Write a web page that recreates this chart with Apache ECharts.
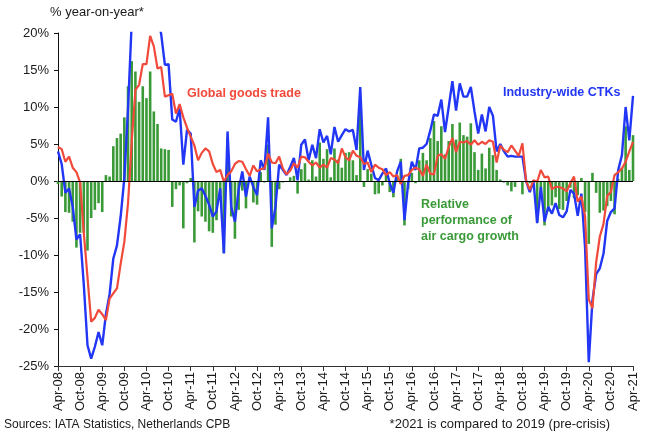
<!DOCTYPE html>
<html><head><meta charset="utf-8">
<script src="https://cdn.jsdelivr.net/npm/echarts@6/dist/echarts.min.js"></script>
<style>html,body{margin:0;padding:0;background:#fff;}#c{width:648px;height:432px;}</style>
</head><body><div id="c"></div>
<script>
// Month labels Apr-08 .. Apr-21 (157 months)
const monthNames = ['Jan','Feb','Mar','Apr','May','Jun','Jul','Aug','Sep','Oct','Nov','Dec'];
const categories = [];
for (let k = 0; k < 157; k++) {
  const m = (3 + k) % 12;
  const y = 2008 + Math.floor((3 + k) / 12);
  categories.push(monthNames[m] + '-' + String(y % 100).padStart(2, '0'));
}

// Industry-wide CTKs, % year-on-year (blue)
const ctk = [
  4.0, 2.3, -1.6, -1.0, -3.5, -7.9, -7.2, -14.0, -22.2, -24.0, -22.4, -20.4,
  -22.2, -18.0, -15.3, -10.5, -8.7, -4.8, 0.4, 9.8, 21.5, 27.1, 23.7, 28.6,
  27.0, 34.4, 27.6, 22.9, 19.8, 15.7, 15.8, 8.3, 8.0, 9.8, 2.2, 6.9,
  6.4, -3.5, -1.3, -1.0, -2.0, -3.2, -4.8, -4.1, -1.0, -9.8, 6.7, -3.5,
  -5.5, -1.2, 1.3, -2.1, 0.6, -0.8, -1.9, 2.8, 1.5, 8.6, -6.4, -3.5,
  2.2, 1.5, 0.8, 1.9, 3.1, 0.1, 4.9, 5.6, 2.8, 4.9, 3.1, 7.0,
  5.2, 6.1, 3.6, 7.3, 5.3, 6.2, 7.0, 6.7, 6.9, 4.2, 12.7, 1.5,
  4.1, 2.2, 0.4, 0.1, 1.0, 1.7, -0.3, -1.6, 1.3, 2.6, -5.3, -0.3,
  2.6, 1.5, 4.4, 4.5, 5.0, 6.8, 9.0, 8.8, 11.0, 6.6, 10.0, 13.5,
  9.5, 13.2, 11.4, 11.4, 12.7, 9.4, 6.4, 9.0, 6.7, 10.0, 8.8, 4.0,
  5.0, 4.0, 3.3, 3.4, 3.3, 3.3, 3.3, 0.0, -1.5, 0.0, -5.7, -0.8,
  -5.5, -3.5, -4.4, -3.0, -4.6, -4.9, -4.1, -1.2, -1.7, -4.7, -1.7, -9.0,
  -24.5, -16.1, -12.6, -11.8, -9.8, -5.4, -4.2, -3.7, 1.5, 3.5, 10.0, 5.5,
  11.5
];

// Global goods trade, % year-on-year (red)
const goodsTrade = [
  4.6, 4.3, 2.6, 3.3, 1.8, 1.2, -0.2, -7.0, -13.0, -19.0, -18.5, -17.4,
  -18.0, -18.8, -15.9, -15.2, -14.5, -11.2, -8.2, -3.0, 5.3, 12.3, 13.0, 15.8,
  15.8, 19.6, 18.2, 15.2, 15.4, 11.4, 11.6, 11.8, 9.1, 10.4, 8.6, 7.2,
  6.0, 4.8, 2.8, 3.8, 4.4, 4.0, 2.3, 1.2, 1.5, -0.1, 0.8, 1.3,
  2.3, 2.7, 2.6, 1.6, 0.7, 2.1, 1.3, 1.6, 1.7, 3.7, 2.5, 2.4,
  3.3, 1.7, 0.9, 1.4, 2.4, 1.8, 3.3, 3.2, 2.6, 2.1, 2.5, 1.8,
  2.2, 1.8, 3.1, 2.9, 2.4, 4.4, 3.2, 2.8, 4.1, 3.4, 3.2, 2.3,
  2.5, 1.2, 2.2, 1.8, 1.6, 0.8, 1.2, 0.6, 0.8, -0.4, 0.7, 0.8,
  1.5, 1.8, 1.6, 0.7, 2.2, 1.0, 0.9, 3.4, 3.6, 3.0, 4.6, 5.8,
  3.9, 5.3, 5.2, 5.4, 4.9, 5.5, 4.9, 5.3, 5.0, 5.5, 5.3, 2.5,
  4.8, 4.2, 3.9, 4.8, 4.1, 3.4, 5.1, 0.0, -1.2, 0.1, -0.1, 1.5,
  0.5, 0.6, -1.1, -0.8, -0.8, -1.0, -1.4, -0.3, 0.6, -2.8, -2.1, -4.8,
  -16.0, -17.2, -11.0, -7.5, -5.8, -2.0, -1.5, 0.8, 1.2, 1.7, 2.6, 4.0,
  5.3
];

// Relative performance of air cargo growth, percentage points (green bars)
const relative = [
  -0.4, -2.1, -4.2, -4.3, -5.5, -9.0, -7.0, -7.0, -9.4, -5.0, -3.9, -3.0,
  -4.2, 0.8, 0.6, 4.7, 5.8, 6.4, 8.6, 12.8, 16.2, 14.8, 10.7, 12.8,
  11.2, 14.8, 9.4, 7.7, 4.4, 4.3, 4.2, -3.5, -1.1, -0.6, -6.4, -0.3,
  0.4, -8.3, -4.1, -4.8, -5.5, -6.8, -7.0, -5.3, -2.5, -9.7, 5.9, -4.8,
  -7.8, -3.9, -1.3, -3.7, -0.1, -2.9, -3.2, 1.2, -0.2, 4.9, -8.9, -5.9,
  -1.1, -0.2, -0.1, 0.5, 0.7, -1.7, 1.6, 2.4, 0.2, 2.8, 0.6, 5.2,
  3.0, 4.3, 0.5, 4.4, 2.9, 1.8, 3.8, 3.9, 2.8, 0.8, 9.5, -0.8,
  1.6, 1.0, -1.8, -1.7, -0.6, 0.9, -1.5, -2.2, 0.5, 3.0, -6.0, -1.1,
  1.1, -0.3, 2.8, 3.8, 2.8, 5.8, 8.1, 5.4, 7.4, 3.6, 5.4, 7.7,
  5.6, 7.9, 6.2, 6.0, 7.8, 3.9, 1.5, 3.7, 1.7, 4.5, 3.5, 1.5,
  0.2, -0.2, -0.6, -1.4, -0.8, -0.1, -1.8, 0.0, -0.3, -0.1, -5.6, -2.3,
  -6.0, -4.1, -3.3, -2.2, -3.8, -3.9, -2.7, -0.9, -2.3, -1.9, 0.4, -4.2,
  -8.5, 1.1, -1.6, -4.3, -4.0, -3.4, -2.7, -4.5, 0.3, 1.8, 7.4, 1.5,
  6.2
];

const yTicks = [-25, -20, -15, -10, -5, 0, 5, 10, 15, 20];

const BLUE = '#2236f5';
const RED = '#f1493a';
const GREEN = '#3a9a38';
const FONT = '"Liberation Sans", Arial, sans-serif';

const chart = echarts.init(document.getElementById('c'), null, {renderer: 'canvas'});
chart.setOption({
  animation: false,
  backgroundColor: '#ffffff',
  grid: {left: 58, right: 15, top: 33, bottom: 66, containLabel: false},
  xAxis: {
    type: 'category',
    data: categories,
    boundaryGap: false,
    axisLine: {onZero: false, lineStyle: {color: '#333', width: 1}},
    axisTick: {show: true, interval: 5, length: 5, lineStyle: {color: '#333'}},
    axisLabel: {interval: 5, rotate: 90, margin: 6, color: '#1a1a1a', fontSize: 13, fontFamily: FONT},
    splitLine: {show: false}
  },
  yAxis: {
    type: 'value',
    min: yTicks[0],
    max: yTicks[yTicks.length - 1],
    interval: 5,
    axisLine: {show: true, lineStyle: {color: '#111', width: 1}},
    axisTick: {show: true, length: 4, lineStyle: {color: '#111'}},
    axisLabel: {formatter: '{value}%', color: '#1a1a1a', fontSize: 13, fontFamily: FONT, margin: 9},
    splitLine: {show: false}
  },
  series: [
    {
      name: 'Relative performance of air cargo growth',
      type: 'bar',
      data: relative,
      barWidth: 2.6,
      itemStyle: {color: GREEN},
      z: 1,
      markLine: {
        silent: true,
        symbol: ['none', 'none'],
        label: {show: false},
        lineStyle: {color: '#000', width: 1.2, type: 'solid'},
        data: [{yAxis: 0}]
      }
    },
    {
      name: 'Industry-wide CTKs',
      type: 'line',
      data: ctk,
      showSymbol: false,
      clip: true,
      lineStyle: {color: BLUE, width: 2.4},
      itemStyle: {color: BLUE},
      z: 3
    },
    {
      name: 'Global goods trade',
      type: 'line',
      data: goodsTrade,
      showSymbol: false,
      clip: true,
      lineStyle: {color: RED, width: 2.2},
      itemStyle: {color: RED},
      z: 4
    }
  ],
  graphic: [
    {type: 'text', left: 50, top: 6, style: {text: '% year-on-year*', fill: '#1a1a1a', font: '13px ' + FONT}},
    {type: 'text', left: 187, top: 87, style: {text: 'Global goods trade', fill: RED, font: 'bold 12.5px ' + FONT}},
    {type: 'text', left: 503, top: 86, style: {text: 'Industry-wide CTKs', fill: BLUE, font: 'bold 12.5px ' + FONT}},
    {type: 'text', left: 421, top: 197, style: {text: 'Relative\nperformance of\nair cargo growth', fill: GREEN, font: 'bold 12.5px ' + FONT, lineHeight: 16}},
    {type: 'text', left: 4, top: 419, style: {text: 'Sources: IATA Statistics, Netherlands CPB', fill: '#1a1a1a', font: '12px ' + FONT}},
    {type: 'text', right: 38, top: 418, style: {text: '*2021 is compared to 2019 (pre-crisis)', fill: '#1a1a1a', font: '13px ' + FONT}}
  ]
});
</script>
</body></html>
